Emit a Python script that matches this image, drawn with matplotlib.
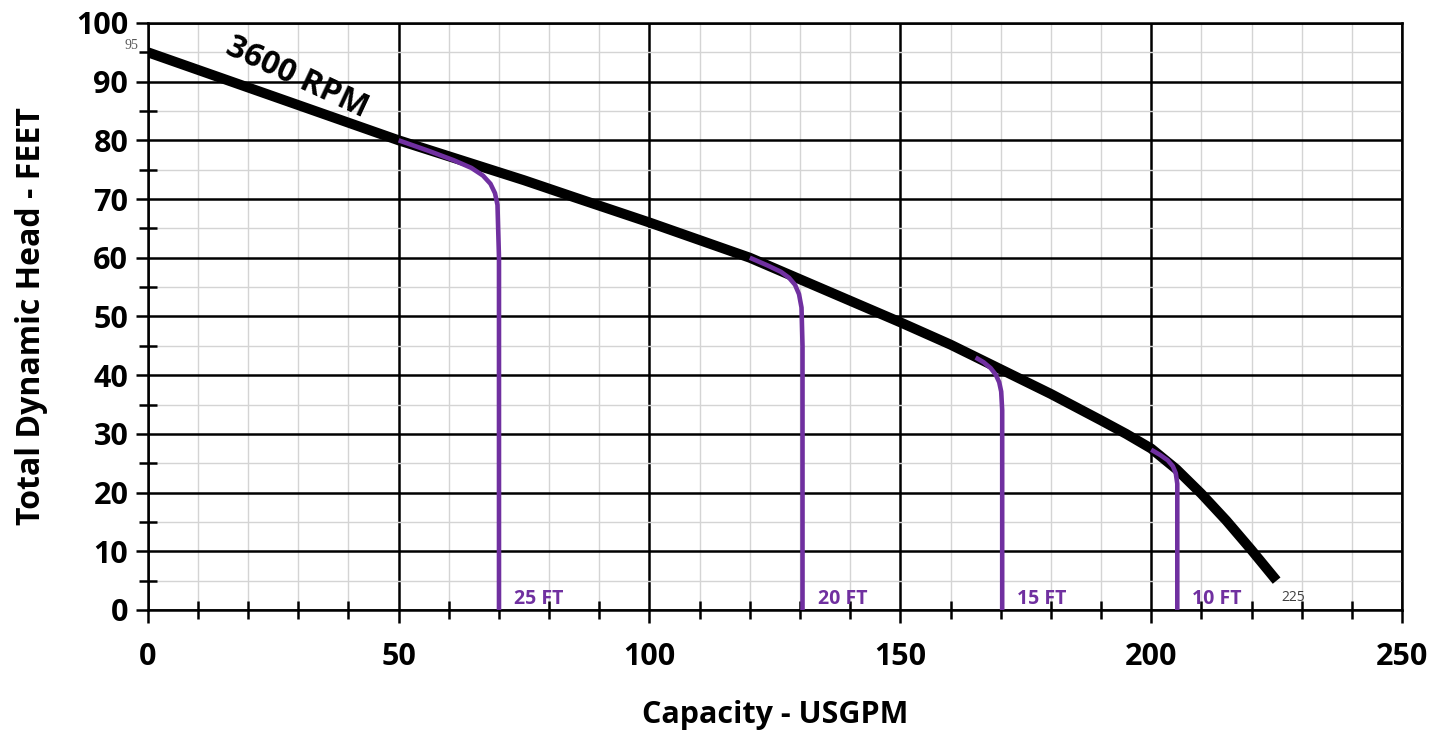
import matplotlib
matplotlib.use("Agg")
import matplotlib.pyplot as plt
from matplotlib.ticker import MultipleLocator

# ---- data ----
main_x = [0, 25, 50, 75, 85, 100, 120, 150, 160, 170, 180, 190, 195, 200, 205, 210, 215, 220, 225]
main_y = [95, 87.5, 80, 73.2, 70.3, 66, 60, 49, 45.2, 41, 36.8, 32.3, 30, 27.5, 24, 19.8, 15.2, 10.2, 5]

p25_x = [50, 56, 61, 64.5, 66.8, 68.3, 69.2, 69.7, 70, 70]
p25_y = [80, 78.2, 76.6, 75.3, 74, 72.6, 71, 69, 60, 0]
p20_x = [120, 123.5, 126.2, 127.8, 129, 129.8, 130.3, 130.5, 130.5]
p20_y = [60, 58.7, 57.6, 56.6, 55.4, 53.8, 51.5, 45, 0]
p15_x = [165, 166.6, 168, 169, 169.7, 170.1, 170.3, 170.3]
p15_y = [43, 42.2, 41.2, 40.1, 38.8, 37.2, 34, 0]
p10_x = [200, 201.8, 203.3, 204.3, 204.9, 205.2, 205.2]
p10_y = [27.3, 26.4, 25.5, 24.5, 23.3, 21.5, 0]

limit_curves = [(p25_x, p25_y, "25 FT"), (p20_x, p20_y, "20 FT"),
                (p15_x, p15_y, "15 FT"), (p10_x, p10_y, "10 FT")]

x_ticks = [0, 50, 100, 150, 200, 250]
y_ticks = [0, 10, 20, 30, 40, 50, 60, 70, 80, 90, 100]

PURPLE = "#7030A0"
FONT = ["Open Sans", "DejaVu Sans"]
plt.rcParams['font.family'] = FONT

fig = plt.figure(figsize=(14.49, 7.32), dpi=100)
ax = fig.add_axes([0.102, 0.1667, 0.8656, 0.802])

ax.set_xlim(0, 250)
ax.set_ylim(0, 100)
ax.set_xticks(x_ticks)
ax.set_yticks(y_ticks)
ax.xaxis.set_minor_locator(MultipleLocator(10))
ax.yaxis.set_minor_locator(MultipleLocator(5))

ax.grid(which='minor', color='#d4d4d4', lw=1.0, zorder=0)
ax.grid(which='major', color='black', lw=1.8, zorder=1)
ax.set_axisbelow(True)

for s in ax.spines.values():
    s.set_color('black')
    s.set_linewidth(1.8)

ax.tick_params(axis='both', which='major', direction='out', length=9, width=1.8,
               labelsize=22, pad=5)
ax.tick_params(axis='x', which='major', pad=14)
ax.tick_params(axis='both', which='minor', direction='inout', length=13, width=1.8)
for lab in ax.get_xticklabels() + ax.get_yticklabels():
    lab.set_fontweight('bold')

ax.set_xlabel("Capacity - USGPM", fontsize=22, fontweight='bold', labelpad=20)
ax.set_ylabel("Total Dynamic Head - FEET", fontsize=23, fontweight='bold', labelpad=20)

ax.plot(main_x, main_y, color='black', lw=7.2, solid_capstyle='butt',
        solid_joinstyle='round', zorder=3)

for xs, ys, lab in limit_curves:
    ax.plot(xs, ys, color=PURPLE, lw=3.3, solid_capstyle='butt',
            solid_joinstyle='round', zorder=4)
    ax.text(xs[-1] + 3, 0.2, lab, color=PURPLE, fontsize=14, fontweight='bold',
            ha='left', va='bottom', zorder=5)

ax.text(-1.8, main_y[0], "95", fontsize=10, color='#595959', ha='right', va='bottom',
        family=['Liberation Serif', 'DejaVu Serif'])
ax.text(main_x[-1] + 1, 0.9, "225", fontsize=10, color='#404040', ha='left', va='bottom')

ax.text(29.8, 90.6, "3600 RPM", fontsize=23, fontweight='bold', rotation=-25,
        rotation_mode='anchor', ha='center', va='center', zorder=5)

fig.savefig("out.png", dpi=100)
